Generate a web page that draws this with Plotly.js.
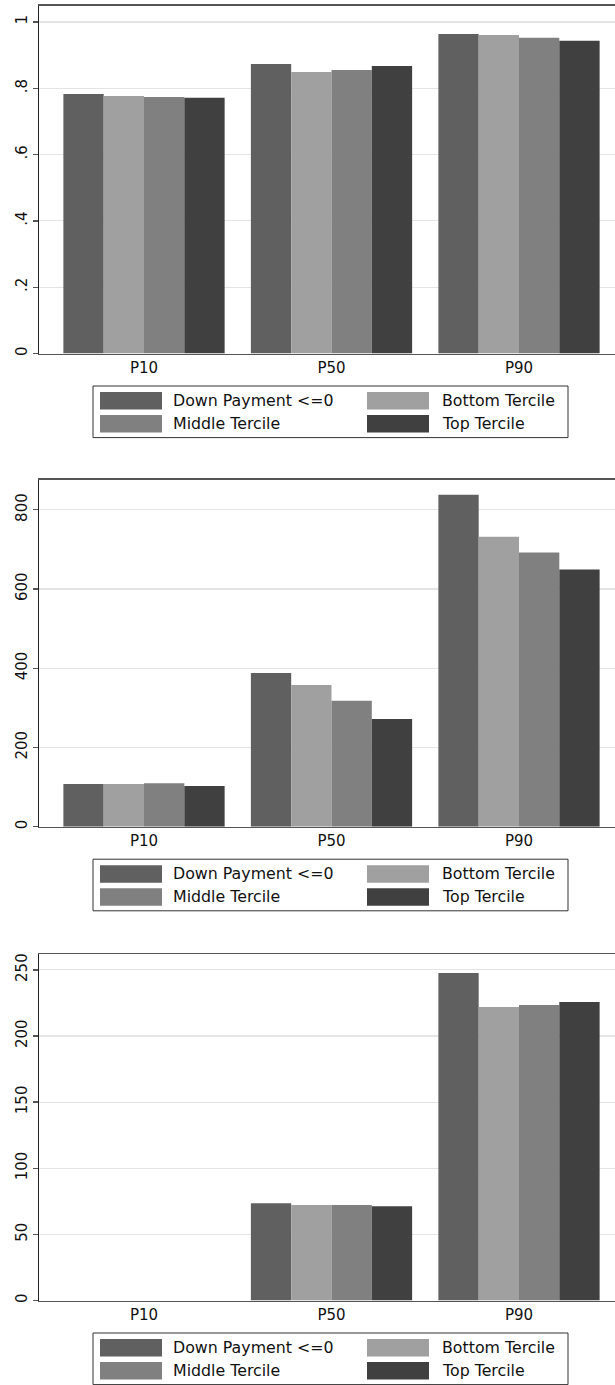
<!DOCTYPE html>
<html>
<head>
<meta charset="utf-8">
<script src="https://cdn.plot.ly/plotly-3.0.1.min.js"></script>
<style>html,body{margin:0;padding:0;background:#fff;}#chart{width:615px;height:1385px;}</style>
</head>
<body>
<div id="chart"></div>
<script>
// ---------- data ----------
const categories = ['P10', 'P50', 'P90'];
const seriesNames = ['Down Payment <=0', 'Bottom Tercile', 'Middle Tercile', 'Top Tercile'];
const seriesColors = ['#606060', '#a0a0a0', '#808080', '#404040'];

// panel 1
const p1Down   = [0.783, 0.873, 0.964];
const p1Bottom = [0.777, 0.849, 0.961];
const p1Middle = [0.774, 0.855, 0.952];
const p1Top    = [0.771, 0.867, 0.943];
const p1TickVals = [0, 0.2, 0.4, 0.6, 0.8, 1];
const p1TickText = ['0', '.2', '.4', '.6', '.8', '1'];

// panel 2
const p2Down   = [108, 388, 838];
const p2Bottom = [108, 358, 732];
const p2Middle = [110, 318, 692];
const p2Top    = [103, 272, 649];
const p2TickVals = [0, 200, 400, 600, 800];
const p2TickText = ['0', '200', '400', '600', '800'];

// panel 3
const p3Down   = [null, 73.5, 247.7];
const p3Bottom = [null, 72.2, 222.0];
const p3Middle = [null, 72.2, 223.5];
const p3Top    = [null, 71.2, 225.8];
const p3TickVals = [0, 50, 100, 150, 200, 250];
const p3TickText = ['0', '50', '100', '150', '200', '250'];

// ---------- layout geometry (pixels) ----------
const W = 615, H = 1385;
const FONT = 'DejaVu Sans, Verdana, sans-serif';
const plotLeft = 39;
const panels = [
  {top: 5.7,   bottom: 353.5,  ymax: 1.049, vals: [p1Down, p1Bottom, p1Middle, p1Top], tv: p1TickVals, tt: p1TickText},
  {top: 479.7, bottom: 826.7,  ymax: 876,   vals: [p2Down, p2Bottom, p2Middle, p2Top], tv: p2TickVals, tt: p2TickText},
  {top: 954,   bottom: 1300.5, ymax: 262,   vals: [p3Down, p3Bottom, p3Middle, p3Top], tv: p3TickVals, tt: p3TickText}
];
const py = px => 1 - px / H;
const pxX = px => px / W;

const traces = [];
const layout = {
  width: W, height: H,
  margin: {l: 0, r: 0, t: 0, b: 0},
  paper_bgcolor: '#ffffff', plot_bgcolor: '#ffffff',
  showlegend: false,
  barmode: 'group', bargap: 0.14, bargroupgap: 0,
  font: {family: FONT, color: '#000'},
  shapes: [], annotations: []
};

panels.forEach((p, i) => {
  const n = i === 0 ? '' : String(i + 1);
  p.vals.forEach((v, s) => {
    traces.push({
      type: 'bar', x: categories, y: v, name: seriesNames[s],
      marker: {color: seriesColors[s], line: {width: 0}},
      xaxis: 'x' + n, yaxis: 'y' + n, hoverinfo: 'x+y+name'
    });
  });
  layout['xaxis' + n] = {
    domain: [pxX(plotLeft), 1], anchor: 'y' + n,
    type: 'category', categoryarray: categories,
    range: [-0.56, 2.512],
    showline: true, mirror: true, linecolor: '#555', linewidth: 1.3,
    ticks: '', showgrid: false, zeroline: false,
    tickfont: {family: FONT, size: 15, color: '#111'}
  };
  layout['yaxis' + n] = {
    domain: [py(p.bottom), py(p.top)], anchor: 'x' + n,
    range: [0, p.ymax],
    tickmode: 'array', tickvals: p.tv, ticktext: p.tt, tickangle: -90,
    ticks: 'outside', ticklen: 5, tickcolor: '#555', tickwidth: 1.3,
    showline: true, linecolor: '#222', linewidth: 1.3,
    showgrid: true, gridcolor: '#e4e4e4', gridwidth: 1.2, zeroline: false,
    tickfont: {family: FONT, size: 15, color: '#111'}
  };

  // custom legend box under each panel
  const boxTop = p.bottom + 32.5;
  const boxBot = boxTop + 51.6;
  layout.shapes.push({
    type: 'rect', xref: 'paper', yref: 'paper',
    x0: pxX(93), x1: pxX(568), y0: py(boxBot), y1: py(boxTop),
    line: {color: '#333', width: 1}, fillcolor: 'rgba(0,0,0,0)'
  });
  const cols = [{sx: 100, tx: 171}, {sx: 367, tx: 440}];
  const rows = [{y0: 6, y1: 23.5}, {y0: 29, y1: 46.5}];
  seriesNames.forEach((name, s) => {
    const c = cols[s % 2], r = rows[Math.floor(s / 2)];
    layout.shapes.push({
      type: 'rect', xref: 'paper', yref: 'paper',
      x0: pxX(c.sx), x1: pxX(c.sx + 62),
      y0: py(boxTop + r.y1), y1: py(boxTop + r.y0),
      line: {width: 0}, fillcolor: seriesColors[s]
    });
    layout.annotations.push({
      xref: 'paper', yref: 'paper', x: pxX(c.tx), y: py(boxTop + (r.y0 + r.y1) / 2),
      xanchor: 'left', yanchor: 'middle', showarrow: false, text: name,
      font: {family: FONT, size: 15.8, color: '#111'}
    });
  });
});

Plotly.newPlot('chart', traces, layout, {staticPlot: true, displayModeBar: false});
</script>
</body>
</html>
